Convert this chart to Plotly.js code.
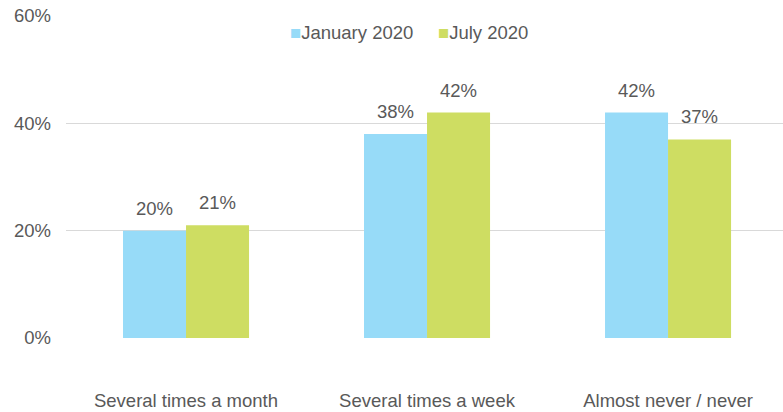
<!DOCTYPE html>
<html>
<head>
<meta charset="utf-8">
<script src="https://cdn.plot.ly/plotly-3.0.1.min.js"></script>
<style>html,body{margin:0;padding:0;background:#fff;}#chart{width:783px;height:412px;}</style>
</head>
<body>
<div id="chart"></div>
<script>
var categories = ["Several times a month", "Several times a week", "Almost never / never"];
var seriesNames = ["January 2020", "July 2020"];
var jan2020 = [0.20, 0.38, 0.42];
var jul2020 = [0.21, 0.42, 0.37];
var yTickVals = [0, 0.2, 0.4, 0.6];
var yTickText = ["0%", "20%", "40%", "60%"];

var colors = ["#97DBF8", "#CEDD62"];
var seriesValues = [jan2020, jul2020];
var fontFam = "Liberation Sans, Arial, sans-serif";
var textCol = "#595959";
var fs = 18.5;

var traces = seriesValues.map(function(vals, i) {
  return {
    type: "bar",
    name: seriesNames[i],
    x: categories,
    y: vals,
    marker: {color: colors[i]},
    hoverinfo: "none",
    showlegend: false
  };
});

var annotations = [];
seriesValues.forEach(function(vals, i) {
  vals.forEach(function(v, j) {
    annotations.push({
      x: categories[j], y: v, xref: "x", yref: "y",
      text: Math.round(v * 100) + "%",
      showarrow: false,
      xshift: (i === 0 ? -31.5 : 31.5),
      yanchor: "bottom",
      yshift: 10,
      font: {family: fontFam, size: fs, color: textCol}
    });
  });
});

// legend entries (swatch + series name)
var legendX = [0.3096, 0.516];
seriesNames.forEach(function(name, i) {
  annotations.push({
    xref: "paper", yref: "paper",
    x: legendX[i], y: 1 - (33 - 16) / (412 - 16 - 73.5),
    xanchor: "left", yanchor: "middle",
    showarrow: false,
    text: '<span style="color:' + colors[i] + '">■</span>' + name,
    font: {family: fontFam, size: fs, color: textCol}
  });
});

var layout = {
  width: 783, height: 412,
  margin: {l: 66, r: 0, t: 16, b: 73.5},
  paper_bgcolor: "#fff", plot_bgcolor: "#fff",
  barmode: "group",
  bargap: 0.477,
  bargroupgap: 0,
  font: {family: fontFam, size: fs, color: textCol},
  xaxis: {
    range: [-0.498, 2.477],
    showgrid: false, zeroline: false, showline: false,
    ticks: "", ticklabelstandoff: 49,
    tickfont: {family: fontFam, size: fs, color: textCol}
  },
  yaxis: {
    range: [0, 0.6],
    tickvals: yTickVals, ticktext: yTickText,
    showgrid: true, gridcolor: "#D9D9D9", gridwidth: 1.3,
    zeroline: false, showline: false, ticks: "",
    ticklabelstandoff: 14,
    tickfont: {family: fontFam, size: fs, color: textCol}
  },
  showlegend: false,
  annotations: annotations
};

Plotly.newPlot("chart", traces, layout, {displayModeBar: false, staticPlot: true});
</script>
</body>
</html>
